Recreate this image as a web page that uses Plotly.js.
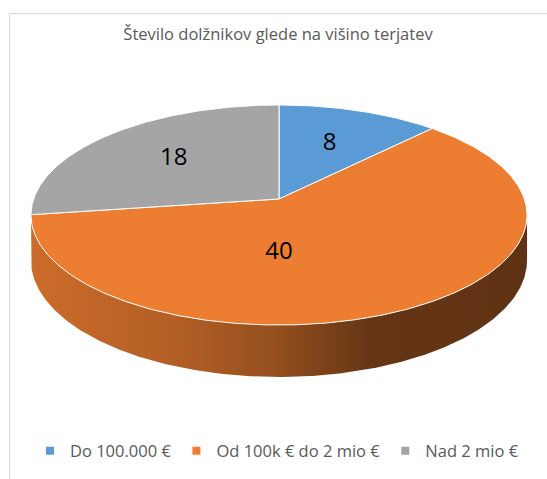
<!DOCTYPE html>
<html><head><meta charset="utf-8">
<script src="https://cdn.plot.ly/plotly-3.0.1.min.js"></script>
<style>html,body{margin:0;padding:0;background:#fff;} #chart{width:547px;height:479px;}</style>
</head><body><div id="chart"></div>
<script>
// ---- data ----
const categories = ['Do 100.000 €', 'Od 100k € do 2 mio €', 'Nad 2 mio €'];
const values = [8, 40, 18];
const sliceColors = ['#5B9BD5', '#ED7D31', '#A5A5A5'];
const chartTitle = 'Število dolžnikov glede na višino terjatev';

// ---- geometry of the tilted 3D disk (pixels) ----
const CX = 279, CY = 199, RX = 245.4, RY = 107.7, PERSP = 0.1454, DEPTH = 44.4;
const LABEL_R = 0.6;
const STEP = Math.PI / 360;

function proj(theta, r, drop) {
  const u = r * Math.sin(theta), v = -r * Math.cos(theta);
  const d = 1 - PERSP * v;
  return [CX + RX * u / d, CY + (RY * v + (drop || 0)) / d];
}
function arc(a0, a1, drop) {
  const pts = [];
  const n = Math.max(2, Math.ceil(Math.abs(a1 - a0) / STEP));
  for (let i = 0; i <= n; i++) pts.push(proj(a0 + (a1 - a0) * i / n, 1, drop));
  return pts;
}
function shade(hex, f) {
  const r = parseInt(hex.slice(1, 3), 16), g = parseInt(hex.slice(3, 5), 16), b = parseInt(hex.slice(5, 7), 16);
  return 'rgb(' + Math.round(r * f) + ',' + Math.round(g * f) + ',' + Math.round(b * f) + ')';
}

const total = values.reduce((a, b) => a + b, 0);
const TR = Math.acos(-PERSP), TL = 2 * Math.PI - TR;
const xLeft = proj(TL, 1, 0)[0], xRight = proj(TR, 1, 0)[0];

const wallTraces = [], topTraces = [], legendTraces = [];
const labelX = [], labelY = [], labelT = [];
let cum = 0;
values.forEach((val, i) => {
  const a0 = cum / total * 2 * Math.PI;
  cum += val;
  const a1 = cum / total * 2 * Math.PI;
  // top face
  const apex = proj(0, 0, 0);
  const tp = [apex].concat(arc(a0, a1, 0));
  tp.push(apex);
  let visible = tp.slice();
  // side wall (only the front, visible part)
  const lo = Math.max(a0, TR), hi = Math.min(a1, TL);
  let hasWall = false;
  if (hi > lo) {
    hasWall = true;
    const pts = arc(lo, hi, 0).concat(arc(hi, lo, DEPTH));
    pts.push(pts[0]);
    visible = visible.concat(pts);
    wallTraces.push({
      type: 'scatter', mode: 'lines', x: pts.map(p => p[0]), y: pts.map(p => p[1]),
      fill: 'toself', fillcolor: shade(sliceColors[i], 0.6),
      fillgradient: {type: 'horizontal', start: xLeft, stop: xRight,
        colorscale: [[0, shade(sliceColors[i], 0.86)], [0.3, shade(sliceColors[i], 0.75)],
                     [0.5, shade(sliceColors[i], 0.62)], [0.68, shade(sliceColors[i], 0.43)],
                     [1, shade(sliceColors[i], 0.40)]]},
      line: {width: 0}, showlegend: false, hoverinfo: 'skip'
    });
  }
  topTraces.push({
    type: 'scatter', mode: 'lines', x: tp.map(p => p[0]), y: tp.map(p => p[1]),
    fill: 'toself', fillcolor: sliceColors[i],
    line: {color: '#ffffff', width: 1}, showlegend: false, hoverinfo: 'skip'
  });
  // label: centre of visible region for the front slice, else along the mid-angle
  let lp;
  if (hasWall) {
    const xs = visible.map(p => p[0]), ys = visible.map(p => p[1]);
    lp = [(Math.min(...xs) + Math.max(...xs)) / 2, (Math.min(...ys) + Math.max(...ys)) / 2];
  } else {
    lp = proj((a0 + a1) / 2, LABEL_R, 0);
  }
  labelX.push(lp[0]); labelY.push(lp[1]); labelT.push(String(val));
  legendTraces.push({
    type: 'scatter', mode: 'markers', x: [null], y: [null], name: categories[i],
    marker: {symbol: 'square', size: 8, color: sliceColors[i]}, showlegend: true, hoverinfo: 'skip'
  });
});

const labelTrace = {
  type: 'scatter', mode: 'text', x: labelX, y: labelY, text: labelT,
  textposition: 'middle center', textfont: {family: 'Open Sans', size: 24, color: '#000000'},
  showlegend: false, hoverinfo: 'skip'
};

const data = legendTraces.concat(wallTraces, topTraces, [labelTrace]);

const layout = {
  width: 547, height: 479,
  margin: {l: 0, r: 0, t: 0, b: 0, pad: 0},
  paper_bgcolor: '#ffffff', plot_bgcolor: 'rgba(0,0,0,0)',
  title: {text: chartTitle, font: {family: 'Open Sans', size: 16.5, color: '#595959'},
    x: 278 / 547, xanchor: 'center', xref: 'paper', y: 1 - 34.2 / 479, yanchor: 'middle', yref: 'container'},
  xaxis: {range: [0, 547], visible: false, fixedrange: true},
  yaxis: {range: [479, 0], visible: false, fixedrange: true},
  showlegend: true,
  legend: {orientation: 'h', x: 277 / 547, xanchor: 'center', y: 1 - 451 / 479, yanchor: 'middle',
    font: {family: 'Open Sans', size: 16.5, color: '#595959'}, bgcolor: 'rgba(0,0,0,0)'},
  hovermode: false,
  shapes: [
    {type: 'line', xref: 'x', yref: 'y', x0: 9.5, x1: 9.5, y0: 13.5, y1: 479, line: {color: '#D9D9D9', width: 1}, layer: 'below'},
    {type: 'line', xref: 'x', yref: 'y', x0: 9.5, x1: 547, y0: 13.5, y1: 13.5, line: {color: '#D9D9D9', width: 1}, layer: 'below'}
  ]
};

Plotly.newPlot('chart', data, layout, {staticPlot: true, displayModeBar: false});
</script>
</body></html>
